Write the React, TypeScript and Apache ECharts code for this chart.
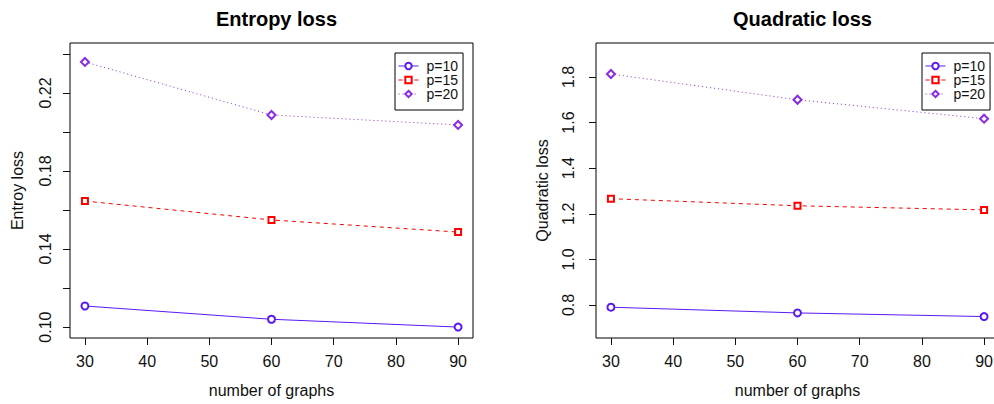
import React, { useEffect, useRef } from "react";
import * as echarts from "echarts";

const graphs = [30, 60, 90];
const seriesNames = ["p=10", "p=15", "p=20"];
const entropyP10 = [0.1108, 0.104, 0.1];
const entropyP15 = [0.1646, 0.1549, 0.1487];
const entropyP20 = [0.2359, 0.2087, 0.2036];
const quadP10 = [0.79, 0.765, 0.749];
const quadP15 = [1.266, 1.235, 1.217];
const quadP20 = [1.813, 1.7, 1.617];
const xTicks = [30, 40, 50, 60, 70, 80, 90];
const entropyTicks = [0.1, 0.12, 0.14, 0.16, 0.18, 0.2, 0.22, 0.24];
const entropyLabels = [0.1, 0.14, 0.18, 0.22];
const quadTicks = [0.8, 1.0, 1.2, 1.4, 1.6, 1.8];

const colors = ["#5a1af5", "#ff0000", "#8a2be2"];
const symbols = ["emptyCircle", "emptyRect", "emptyDiamond"];
const symbolSizes = [7, 6, 8];
const lineTypes: any[] = ["solid", [4, 4], [1, 3]];

const FONT = "Liberation Sans, Arial, Helvetica, sans-serif";

function makeSeries(vals: number[][], axis: number) {
  return vals.map((v, i) => ({
    name: seriesNames[i],
    type: "line",
    xAxisIndex: axis,
    yAxisIndex: axis,
    data: graphs.map((g, j) => [g, v[j]]),
    symbol: symbols[i],
    symbolSize: symbolSizes[i],
    showSymbol: true,
    color: colors[i],
    itemStyle: { color: colors[i], borderColor: colors[i], borderWidth: 0.8 },
    lineStyle: { color: colors[i], width: 1, type: lineTypes[i] },
    emphasis: { disabled: true },
  }));
}

function xAxis(idx: number) {
  return {
    type: "value",
    gridIndex: idx,
    min: 27.6,
    max: 92.4,
    name: "number of graphs",
    nameLocation: "middle",
    nameGap: 44,
    nameTextStyle: { fontFamily: FONT, fontSize: 16, color: "#111" },
    axisLine: { show: false },
    splitLine: { show: false },
    axisTick: { show: true, length: 7, customValues: xTicks, lineStyle: { color: "#111" } },
    axisLabel: { show: true, customValues: xTicks, margin: 15, fontFamily: FONT, fontSize: 16, color: "#111" },
  };
}

export default function App() {
  const ref = useRef<HTMLDivElement>(null);
  useEffect(() => {
    if (!ref.current) return;
    const chart = echarts.init(ref.current, null, { renderer: "svg" });
    const legendCommon = {
      orient: "vertical",
      top: 53,
      itemWidth: 20,
      itemHeight: 8,
      itemGap: 0,
      padding: [6, 5, 9, 3],
      borderColor: "#000",
      borderWidth: 1,
      borderRadius: 0,
      backgroundColor: "#fff",
      data: seriesNames,
      selectedMode: false,
      itemStyle: { borderWidth: 0.8 },
      lineStyle: { width: 1 },
      textStyle: { fontFamily: FONT, fontSize: 14, lineHeight: 10, color: "#111", padding: [0, 0, 0, 3] },
    };
    chart.setOption({
      animation: false,
      backgroundColor: "#fff",
      title: [
        {
          text: "Entropy loss",
          left: 271.5,
          textAlign: "center",
          top: 4,
          textStyle: { fontFamily: FONT, fontSize: 20, fontWeight: "bold", color: "#000" },
        },
        {
          text: "Quadratic loss",
          left: 797.5,
          textAlign: "center",
          top: 4,
          textStyle: { fontFamily: FONT, fontSize: 20, fontWeight: "bold", color: "#000" },
        },
      ],
      legend: [
        { ...legendCommon, left: 395 },
        { ...legendCommon, left: 922 },
      ],
      grid: [
        { left: 70, top: 43, width: 403, height: 295, show: true, borderColor: "#000", borderWidth: 1, backgroundColor: "transparent", outerBoundsMode: "none", containLabel: false },
        { left: 596, top: 43, width: 403, height: 295, show: true, borderColor: "#000", borderWidth: 1, backgroundColor: "transparent", outerBoundsMode: "none", containLabel: false },
      ],
      xAxis: [xAxis(0), xAxis(1)],
      yAxis: [
        {
          type: "value",
          gridIndex: 0,
          min: 0.0944,
          max: 0.2456,
          name: "Entroy loss",
          nameLocation: "middle",
          nameGap: 45,
          nameTextStyle: { fontFamily: FONT, fontSize: 16, color: "#111" },
          axisLine: { show: false },
          splitLine: { show: false },
          axisTick: { show: true, length: 7, customValues: entropyTicks, lineStyle: { color: "#111" } },
          axisLabel: {
            show: true,
            customValues: entropyLabels,
            rotate: 90,
            margin: 17,
            fontFamily: FONT,
            fontSize: 16,
            color: "#111",
            formatter: (v: number) => v.toFixed(2),
          },
        },
        {
          type: "value",
          gridIndex: 1,
          min: 0.655,
          max: 1.949,
          name: "Quadratic loss",
          nameLocation: "middle",
          nameGap: 46,
          nameTextStyle: { fontFamily: FONT, fontSize: 16, color: "#111" },
          axisLine: { show: false },
          splitLine: { show: false },
          axisTick: { show: true, length: 7, customValues: quadTicks, lineStyle: { color: "#111" } },
          axisLabel: {
            show: true,
            customValues: quadTicks,
            rotate: 90,
            margin: 20,
            fontFamily: FONT,
            fontSize: 16,
            color: "#111",
            formatter: (v: number) => v.toFixed(1),
          },
        },
      ],
      series: [
        ...makeSeries([entropyP10, entropyP15, entropyP20], 0),
        ...makeSeries([quadP10, quadP15, quadP20], 1),
      ],
    });
    return () => chart.dispose();
  }, []);
  return (
    <div
      ref={ref}
      style={{ position: "fixed", left: 0, top: 0, width: 994, height: 404, background: "#fff" }}
    />
  );
}
